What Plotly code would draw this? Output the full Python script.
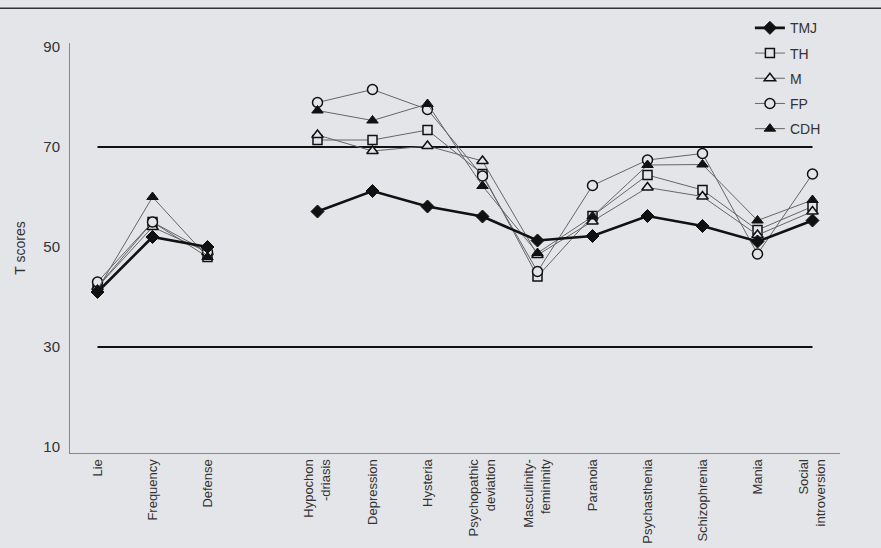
import plotly.graph_objects as go

categories = ["Lie", "Frequency", "Defense",
              "Hypochon<br>-driasis", "Depression", "Hysteria",
              "Psychopathic<br>deviation", "Masculinity-<br>femininity",
              "Paranoia", "Psychasthenia", "Schizophrenia", "Mania",
              "Social<br>introversion"]

tmj = [41, 52, 50, 57.1, 61.2, 58.1, 56.1, 51.3, 52.2, 56.2, 54.2, 51.1, 55.3]
th  = [42, 55, 48, 71.4, 71.4, 73.4, 64.6, 44.1, 56.2, 64.4, 61.4, 53.4, 58.1]
m   = [42, 54, 49, 72.4, 69.2, 70.2, 67.2, 48.4, 55.1, 61.9, 60.1, 52.4, 57.1]
fp  = [43, 55, 49, 78.9, 81.5, 77.5, 64.2, 45.1, 62.3, 67.4, 68.7, 48.6, 64.6]
cdh = [41.5, 60, 48, 77.3, 75.3, 78.6, 62.2, 48.8, 56.1, 66.4, 66.5, 55.3, 59.4]

series_names = ["TMJ", "TH", "M", "FP", "CDH"]
ref_levels = [70, 30]
y_ticks = [10, 30, 50, 70, 90]

BG = "#e3e5e9"
FONT = "Liberation Sans, Arial, sans-serif"

# validity scales (first 3) separated from clinical scales by one empty slot
GAP_AFTER = 3
xpos = [i if i < GAP_AFTER else i + 1 for i in range(len(categories))]
x_line = xpos[:GAP_AFTER] + [GAP_AFTER] + xpos[GAP_AFTER:]

def with_gap(vals):
    return list(vals[:GAP_AFTER]) + [None] + list(vals[GAP_AFTER:])

styles = {
    "TMJ": dict(line=dict(color="#111111", width=2.6),
                marker=dict(symbol="diamond", size=10, color="#111111",
                            line=dict(color="#111111", width=1))),
    "TH": dict(line=dict(color="#666666", width=1),
               marker=dict(symbol="square", size=9, color=BG,
                           line=dict(color="#111111", width=1.5))),
    "M": dict(line=dict(color="#666666", width=1),
              marker=dict(symbol="triangle-up", size=10, color=BG,
                          line=dict(color="#111111", width=1.5))),
    "FP": dict(line=dict(color="#666666", width=1),
               marker=dict(symbol="circle", size=10, color=BG,
                           line=dict(color="#111111", width=1.5))),
    "CDH": dict(line=dict(color="#666666", width=1),
                marker=dict(symbol="triangle-up", size=10, color="#111111",
                            line=dict(color="#111111", width=1))),
}

fig = go.Figure()

# reference lines at T = 70 and T = 30
for lvl in ref_levels:
    fig.add_trace(go.Scatter(x=[xpos[0], xpos[-1]], y=[lvl, lvl], mode="lines",
                             line=dict(color="#111111", width=2),
                             showlegend=False, hoverinfo="skip"))

data = {"TMJ": tmj, "TH": th, "M": m, "FP": fp, "CDH": cdh}
draw_order = ["TH", "M", "FP", "CDH", "TMJ"]
rank = {n: i for i, n in enumerate(series_names)}
for name in draw_order:
    fig.add_trace(go.Scatter(x=x_line, y=with_gap(data[name]), name=name,
                             mode="lines+markers", connectgaps=False,
                             legendgroup=name, legendrank=rank[name] + 1,
                             **styles[name]))

fig.add_shape(type="line", xref="paper", yref="paper",
              x0=-0.1, x1=1.06, y0=1.085, y1=1.085,
              line=dict(color="#333333", width=1.5))

fig.update_layout(
    width=881, height=548,
    margin=dict(l=70, r=41, t=43, b=95),
    paper_bgcolor=BG, plot_bgcolor=BG,
    font=dict(family=FONT, color="#333333", size=12),
    legend=dict(x=0.883, y=1.075, xanchor="left", yanchor="top",
                bgcolor="rgba(0,0,0,0)", font=dict(size=14),
                tracegroupgap=4, traceorder="grouped"),
    xaxis=dict(range=[-0.5, 13.5], tickvals=xpos, ticktext=categories,
               tickangle=-90, showgrid=False, zeroline=False,
               showline=True, linecolor="#888888", linewidth=1,
               ticks="", tickfont=dict(size=13), automargin=False),
    yaxis=dict(range=[8.8, 90.8], tickvals=y_ticks, showgrid=False,
               zeroline=False, showline=True, linecolor="#888888",
               linewidth=1, ticks="", tickfont=dict(size=15),
               ticklabelstandoff=6, automargin=False,
               title=dict(text="T scores", font=dict(size=14), standoff=14)),
)

fig.write_html("out.html")
